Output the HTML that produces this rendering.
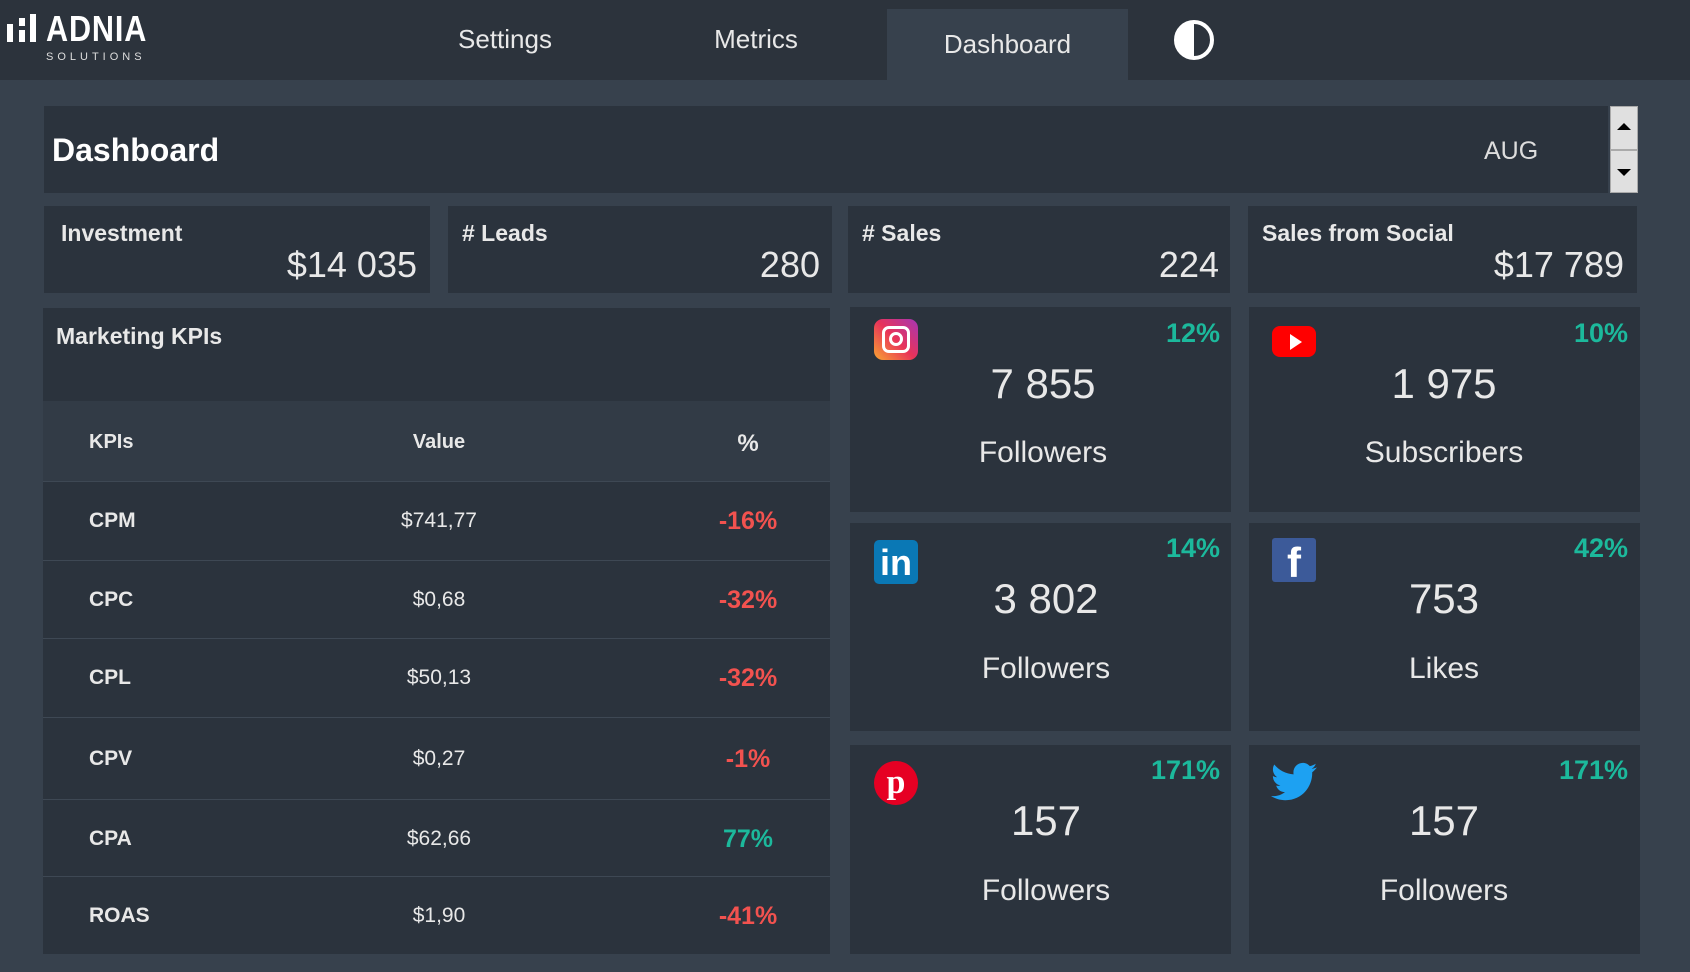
<!DOCTYPE html><html><head><style>
*{margin:0;padding:0;box-sizing:border-box}
body{width:1690px;height:972px;background:#37414d;font-family:"Liberation Sans",sans-serif;color:#e8e8e8;position:relative;overflow:hidden}
.a{position:absolute}
.card{position:absolute;background:#2b333d}
.b{font-weight:bold}
.g{color:#1cb99c}.r{color:#f2524f}
.c{text-align:center}
.row{position:absolute;left:43px;width:787px;height:78px;border-top:1px solid #3e4854;font-size:21px}
.row span{position:absolute;top:0;line-height:78px}
</style></head><body>
<div class="a" style="left:0;top:0;width:1690px;height:80px;background:#2c333c"></div>
<div class="a" style="left:7px;top:24px;width:6px;height:18px;background:#fff"></div>
<div class="a" style="left:19px;top:18px;width:6px;height:8px;background:#fff"></div>
<div class="a" style="left:19px;top:30px;width:6px;height:12px;background:#fff"></div>
<div class="a" style="left:30px;top:14px;width:6px;height:28px;background:#fff"></div>
<div class="a b" style="left:46px;top:8px;font-size:36px;color:#fff;letter-spacing:1px;transform:scaleX(0.85);transform-origin:left">ADNIA</div>
<div class="a" style="left:46px;top:51px;font-size:11px;letter-spacing:4px;color:#ddd">SOLUTIONS</div>
<div class="a c" style="left:405px;top:24px;width:200px;font-size:26px">Settings</div>
<div class="a c" style="left:656px;top:24px;width:200px;font-size:26px">Metrics</div>
<div class="a" style="left:887px;top:9px;width:241px;height:71px;background:#37414d"></div>
<div class="a c" style="left:887px;top:29px;width:241px;font-size:26px">Dashboard</div>
<div class="a" style="left:1174px;top:20px;width:40px;height:40px;border-radius:50%;border:4px solid #fff;background:linear-gradient(90deg,#fff 50%,transparent 50%)"></div>

<div class="card" style="left:44px;top:106px;width:1564px;height:87px"></div>
<div class="a b" style="left:52px;top:132px;font-size:32px;color:#fff">Dashboard</div>
<div class="a" style="left:1484px;top:137px;font-size:25px;color:#ddd">AUG</div>
<div class="a" style="left:1610px;top:106px;width:28px;height:87px;background:#e0e0e0;border:1px solid #aaa"></div>
<div class="a" style="left:1610px;top:149px;width:28px;height:2px;background:#aaa"></div>
<div class="a" style="left:1617px;top:123px;border:7px solid transparent;border-bottom-color:#000;border-top:0"></div>
<div class="a" style="left:1617px;top:169px;border:7px solid transparent;border-top-color:#000;border-bottom:0"></div>

<div class="card" style="left:44px;top:206px;width:386px;height:87px"></div>
<div class="card" style="left:448px;top:206px;width:384px;height:87px"></div>
<div class="card" style="left:848px;top:206px;width:382px;height:87px"></div>
<div class="card" style="left:1248px;top:206px;width:389px;height:87px"></div>
<div class="a b" style="left:61px;top:220px;font-size:23px">Investment</div>
<div class="a" style="left:44px;top:244px;width:373px;text-align:right;font-size:36px">$14 035</div>
<div class="a b" style="left:462px;top:220px;font-size:23px"># Leads</div>
<div class="a" style="left:448px;top:244px;width:372px;text-align:right;font-size:36px">280</div>
<div class="a b" style="left:862px;top:220px;font-size:23px"># Sales</div>
<div class="a" style="left:848px;top:244px;width:371px;text-align:right;font-size:36px">224</div>
<div class="a b" style="left:1262px;top:220px;font-size:23px">Sales from Social</div>
<div class="a" style="left:1248px;top:244px;width:376px;text-align:right;font-size:36px">$17 789</div>

<div class="card" style="left:43px;top:308px;width:787px;height:646px"></div>
<div class="a b" style="left:56px;top:323px;font-size:23px">Marketing KPIs</div>
<div class="a" style="left:43px;top:401px;width:787px;height:80px;background:#323b46"></div>
<div class="a b" style="left:89px;top:431px;font-size:20px">KPIs</div>
<div class="a b c" style="left:339px;top:431px;width:200px;font-size:20px">Value</div>
<div class="a b c" style="left:698px;top:430px;width:100px;font-size:24px">%</div>
<div class="row" style="top:481px"><span class="b" style="left:46px">CPM</span><span style="left:296px;width:200px;text-align:center">$741,77</span><span class="b r" style="left:655px;width:100px;text-align:center;font-size:25px">-16%</span></div>
<div class="row" style="top:560px"><span class="b" style="left:46px">CPC</span><span style="left:296px;width:200px;text-align:center">$0,68</span><span class="b r" style="left:655px;width:100px;text-align:center;font-size:25px">-32%</span></div>
<div class="row" style="top:638px"><span class="b" style="left:46px">CPL</span><span style="left:296px;width:200px;text-align:center">$50,13</span><span class="b r" style="left:655px;width:100px;text-align:center;font-size:25px">-32%</span></div>
<div class="row" style="top:717px;height:82px"><span class="b" style="left:46px;line-height:82px">CPV</span><span style="left:296px;width:200px;text-align:center;line-height:82px">$0,27</span><span class="b r" style="left:655px;width:100px;text-align:center;font-size:25px;line-height:82px">-1%</span></div>
<div class="row" style="top:799px"><span class="b" style="left:46px">CPA</span><span style="left:296px;width:200px;text-align:center">$62,66</span><span class="b g" style="left:655px;width:100px;text-align:center;font-size:25px">77%</span></div>
<div class="row" style="top:876px"><span class="b" style="left:46px">ROAS</span><span style="left:296px;width:200px;text-align:center">$1,90</span><span class="b r" style="left:655px;width:100px;text-align:center;font-size:25px">-41%</span></div>

<div class="card" style="left:850px;top:307px;width:381px;height:205px"></div>
<div class="card" style="left:1249px;top:307px;width:391px;height:205px"></div>
<div class="card" style="left:850px;top:523px;width:381px;height:208px"></div>
<div class="card" style="left:1249px;top:523px;width:391px;height:208px"></div>
<div class="card" style="left:850px;top:745px;width:381px;height:209px"></div>
<div class="card" style="left:1249px;top:745px;width:391px;height:209px"></div>

<div class="a" style="left:874px;top:319px;width:44px;height:41px;border-radius:9px;background:linear-gradient(45deg,#f9a531,#e8335a 50%,#a636b5)"></div>
<div class="a" style="left:882px;top:326px;width:28px;height:27px;border-radius:7px;border:3px solid #fff"></div>
<div class="a" style="left:889px;top:332px;width:14px;height:14px;border-radius:50%;border:3px solid #fff"></div>
<div class="a" style="left:1272px;top:326px;width:44px;height:31px;border-radius:8px;background:#f00"></div>
<div class="a" style="left:1290px;top:334px;border:8px solid transparent;border-left:12px solid #fff;border-right:0"></div>
<div class="a b" style="left:874px;top:540px;width:44px;height:44px;border-radius:5px;background:#0a78b5;color:#fff;font-size:36px;line-height:46px;text-align:center">in</div>
<div class="a b" style="left:1272px;top:538px;width:44px;height:44px;border-radius:3px;background:#3c5a99;color:#fff;font-size:42px;line-height:50px;text-align:center">f</div>
<div class="a b" style="left:874px;top:761px;width:44px;height:44px;border-radius:50%;background:#e60023;color:#fff;font-size:34px;line-height:44px;text-align:center;font-family:'Liberation Serif',serif">p</div>
<svg class="a" style="left:1271px;top:762px" width="46" height="40" viewBox="0 0 24 20"><path fill="#1da1f2" d="M24 2.4c-.9.4-1.8.6-2.8.8 1-.6 1.8-1.6 2.2-2.7-1 .6-2 1-3.1 1.2C19.4.7 18.1 0 16.6 0c-2.7 0-4.9 2.2-4.9 4.9 0 .4 0 .8.1 1.1C7.7 5.8 4.1 3.9 1.7.9c-.4.7-.7 1.6-.7 2.5 0 1.7.9 3.2 2.2 4.1-.8 0-1.6-.2-2.2-.6v.1c0 2.4 1.7 4.4 3.9 4.8-.4.1-.8.2-1.3.2-.3 0-.6 0-.9-.1.6 2 2.4 3.4 4.6 3.4-1.7 1.3-3.8 2.1-6.1 2.1-.4 0-.8 0-1.2-.1 2.2 1.4 4.8 2.2 7.5 2.2 9.1 0 14-7.5 14-14v-.6c1-.7 1.8-1.6 2.5-2.5z"/></svg>

<div class="a b g" style="left:1080px;top:318px;width:140px;text-align:right;font-size:27px">12%</div>
<div class="a b g" style="left:1488px;top:318px;width:140px;text-align:right;font-size:27px">10%</div>
<div class="a b g" style="left:1080px;top:533px;width:140px;text-align:right;font-size:27px">14%</div>
<div class="a b g" style="left:1488px;top:533px;width:140px;text-align:right;font-size:27px">42%</div>
<div class="a b g" style="left:1080px;top:755px;width:140px;text-align:right;font-size:27px">171%</div>
<div class="a b g" style="left:1488px;top:755px;width:140px;text-align:right;font-size:27px">171%</div>

<div class="a c" style="left:893px;top:360px;width:300px;font-size:42px">7 855</div>
<div class="a c" style="left:893px;top:436px;width:300px;font-size:30px">Followers</div>
<div class="a c" style="left:1294px;top:360px;width:300px;font-size:42px">1 975</div>
<div class="a c" style="left:1294px;top:436px;width:300px;font-size:30px">Subscribers</div>
<div class="a c" style="left:896px;top:575px;width:300px;font-size:42px">3 802</div>
<div class="a c" style="left:896px;top:652px;width:300px;font-size:30px">Followers</div>
<div class="a c" style="left:1294px;top:575px;width:300px;font-size:42px">753</div>
<div class="a c" style="left:1294px;top:652px;width:300px;font-size:30px">Likes</div>
<div class="a c" style="left:896px;top:797px;width:300px;font-size:42px">157</div>
<div class="a c" style="left:896px;top:874px;width:300px;font-size:30px">Followers</div>
<div class="a c" style="left:1294px;top:797px;width:300px;font-size:42px">157</div>
<div class="a c" style="left:1294px;top:874px;width:300px;font-size:30px">Followers</div>
</body></html>
